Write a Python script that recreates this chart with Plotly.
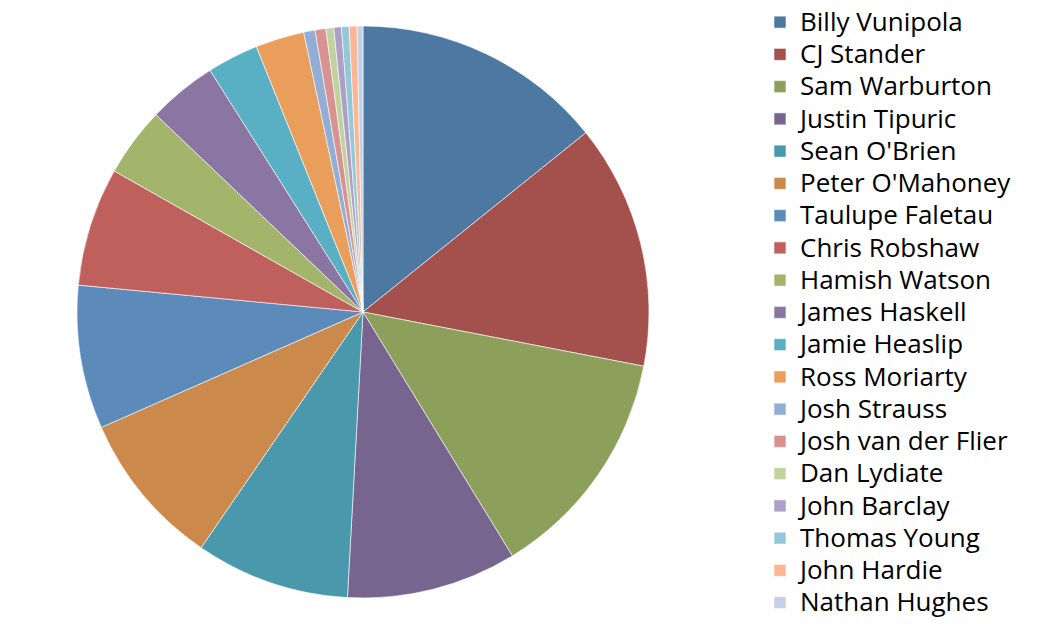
import plotly.graph_objects as go

# Share of total (%)
players = [
    "Billy Vunipola", "CJ Stander", "Sam Warburton", "Justin Tipuric",
    "Sean O'Brien", "Peter O'Mahoney", "Taulupe Faletau", "Chris Robshaw",
    "Hamish Watson", "James Haskell", "Jamie Heaslip", "Ross Moriarty",
    "Josh Strauss", "Josh van der Flier", "Dan Lydiate", "John Barclay",
    "Thomas Young", "John Hardie", "Nathan Hughes",
]
share = [
    14.2, 13.8, 13.2, 9.6,
    8.7, 8.8, 8.1, 6.7,
    3.9, 3.9, 2.9, 2.75,
    0.64, 0.61, 0.44, 0.43,
    0.43, 0.44, 0.33,
]

COLORS = [
    "#4D78A2", "#A4514E", "#8DA05B", "#77648F", "#4A98AC", "#CC894C",
    "#5C8BBA", "#BF605C", "#A3B56A", "#8A75A3", "#59AFC4", "#EA9E5C",
    "#93AED4", "#D69392", "#C0D39E", "#AD9FC5", "#93C8D8", "#FBB794",
    "#C4D0E5",
]

W, H = 1042, 624
cx, cy, r = 363, 312, 286

# legend rows are tight in the original, so the label glyphs are a bit
# larger than the row spacing plotly derives from the legend font
legend_labels = [f'<span style="font-size:26px">{p}</span>' for p in players]

fig = go.Figure(go.Pie(
    labels=legend_labels, values=share,
    sort=False, direction="clockwise", rotation=0,
    marker=dict(colors=COLORS, line=dict(color="white", width=0.6)),
    textinfo="none", hoverinfo="label+percent",
    domain=dict(x=[(cx - r) / W, (cx + r) / W],
                y=[(H - cy - r) / H, (H - cy + r) / H]),
))

fig.update_layout(
    width=W, height=H,
    margin=dict(l=0, r=0, t=0, b=0),
    paper_bgcolor="white", plot_bgcolor="white",
    font=dict(family="Open Sans", color="black"),
    legend=dict(
        x=760 / W, xanchor="left", y=1 - 2 / H, yanchor="top",
        font=dict(size=22.5, family="Open Sans", color="black"),
        traceorder="normal",
    ),
)

fig.write_html("out.html", config={"displayModeBar": False},
               post_script="document.body.style.margin='0';")
